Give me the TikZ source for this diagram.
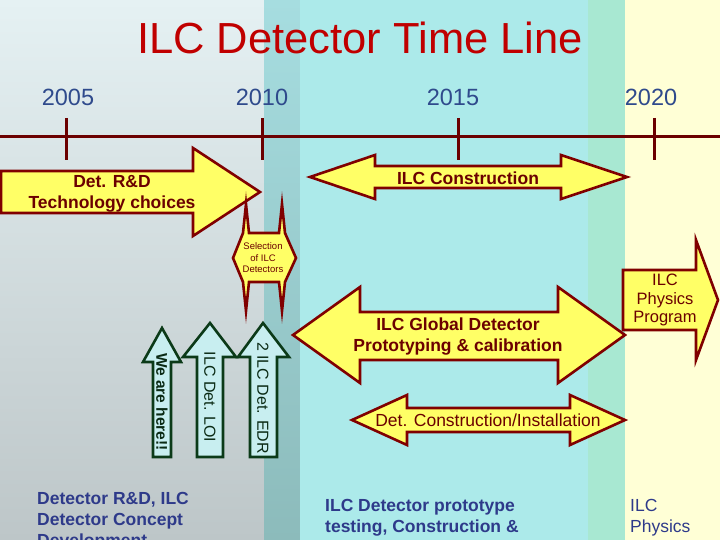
\documentclass[tikz,border=0pt]{standalone}
\usepackage{fontspec}
\setmainfont{Liberation Sans}
\definecolor{bgtop}{HTML}{E5F1F3}
\definecolor{bgbottom}{HTML}{BDC6C8}
\definecolor{bandtop}{HTML}{A6DDE0}
\definecolor{bandbottom}{HTML}{8CBBBB}
\definecolor{bgcyan}{HTML}{ACEAEA}
\definecolor{bgmint}{HTML}{A8E8D2}
\definecolor{bgyellow}{HTML}{FFFFD6}
\definecolor{titlered}{HTML}{C00000}
\definecolor{yearblue}{HTML}{2F4A8C}
\definecolor{linered}{HTML}{6B0000}
\definecolor{arrowfill}{HTML}{FFFF66}
\definecolor{arrowline}{HTML}{800000}
\definecolor{arrowtext}{HTML}{6B0000}
\definecolor{greenfill}{HTML}{C8EEF0}
\definecolor{greenline}{HTML}{0B3A18}
\definecolor{greentext}{HTML}{0A2A14}
\definecolor{notesblue}{HTML}{2E3A8A}
\tikzset{
  timeline/.style={
    draw=linered,
    line width=3pt
  },
  year/.style={
    text=yearblue,
    font=\fontsize{23.5}{26}\selectfont,
    inner sep=0pt
  },
  blockarrow/.style={
    fill=arrowfill,
    draw=arrowline,
    line width=2.6pt,
    line join=miter
  },
  greenarrow/.style={
    fill=greenfill,
    draw=greenline,
    line width=2.6pt,
    line join=miter
  },
  arrowlabel/.style={
    text=arrowtext,
    font=\bfseries\fontsize{17.5}{21}\selectfont,
    align=center,
    inner sep=0pt
  },
  uplabel/.style={
    text=greentext,
    font=\fontsize{16}{18}\selectfont,
    rotate=-90,
    inner sep=0pt
  },
  notes/.style={
    text=notesblue,
    font=\bfseries\fontsize{17.5}{21}\selectfont,
    align=left,
    anchor=base west,
    inner sep=0pt
  }
}
\begin{document}
\begin{tikzpicture}[x=1pt, y=-1pt]
    \useasboundingbox (0,0) rectangle (720,540);
    % background bands
    \shade[top color=bgtop, bottom color=bgbottom] (0,0) rectangle (264,540);
    \shade[top color=bandtop, bottom color=bandbottom] (264,0) rectangle (300,540);
    \fill[bgcyan] (300,0) rectangle (588,540);
    \fill[bgmint] (588,0) rectangle (625,540);
    \fill[bgyellow] (625,0) rectangle (720,540);

    \node[text=titlered, font=\fontsize{43.5}{48}\selectfont, inner sep=0pt] (title) at (360,38) {ILC Detector Time Line};

    % time axis
    \draw[timeline] (0,137) -- (720,137);
    \foreach \x/\lx/\yr in {66/68/2005, 262/262/2010, 458/453/2015, 654/651/2020} {
        \draw[timeline] (\x,118) -- (\x,160);
        \node[year] (y\yr) at (\lx,97) {\yr};
    }

    % yellow block arrows
    \draw[blockarrow] (1,171) -- (193,171) -- (193,148) -- (260,192) -- (193,236) -- (193,213) -- (1,213) -- cycle;
    \node[arrowlabel] (rd) at (112,194) {Det. R\&D\\Technology choices};

    \draw[blockarrow] (310,177) -- (375,155) -- (375,166) -- (561,166) -- (561,155) -- (627,177)
        -- (561,199) -- (561,188) -- (375,188) -- (375,199) -- cycle;
    \node[arrowlabel] (construction) at (468,178) {ILC Construction};

    \draw[blockarrow] (233,258) -- (243,233) -- (246,204) -- (249,233) -- (279,233) -- (282,204) -- (285,233)
        -- (296,258) -- (285,282) -- (282,311) -- (279,282) -- (249,282) -- (246,311) -- (243,282) -- cycle;
    \node[arrowlabel, font=\fontsize{9.5}{11.5}\selectfont] (selection) at (263,258) {Selection\\of ILC\\Detectors};

    \draw[blockarrow] (293,335) -- (360,287) -- (360,312) -- (558,312) -- (558,287) -- (625,335)
        -- (558,383) -- (558,360) -- (360,360) -- (360,383) -- cycle;
    \node[arrowlabel] (prototyping) at (458,337) {ILC Global Detector\\Prototyping \& calibration};

    \draw[blockarrow] (352,420) -- (407,395) -- (407,408) -- (570,408) -- (570,395) -- (625,420)
        -- (570,445) -- (570,432) -- (407,432) -- (407,445) -- cycle;
    \node[arrowlabel, font=\fontsize{17.5}{21}\selectfont] (installation) at (488,420) {Det. Construction/Installation};

    \draw[blockarrow] (623,270) -- (696,270) -- (696,240) -- (718,300) -- (696,360) -- (696,330) -- (623,330) -- cycle;
    \node[arrowlabel, font=\fontsize{16.5}{18.5}\selectfont] (physics) at (665,300) {ILC\\Physics\\Program};

    % milestone arrows
    \draw[greenarrow] (162,328) -- (181,362) -- (171,362) -- (171,457) -- (153,457) -- (153,362) -- (143,362) -- cycle;
    \node[uplabel, font=\bfseries\fontsize{15.5}{18}\selectfont] (here) at (162,402) {We are here!!};

    \draw[greenarrow] (210,323) -- (236,357) -- (223,357) -- (223,457) -- (197,457) -- (197,357) -- (183,357) -- cycle;
    \node[uplabel] (loi) at (210,397) {ILC Det. LOI};

    \draw[greenarrow] (263,323) -- (289,357) -- (277,357) -- (277,457) -- (250,457) -- (250,357) -- (238,357) -- cycle;
    \node[uplabel] (edr) at (263,398) {2 ILC Det. EDR};

    % phase notes
    \node[notes] (noteleft) at (37,546) {Detector R\&D, ILC\\Detector Concept\\Development};
    \node[notes] (notemid) at (325,532) {ILC Detector prototype\\testing, Construction \&};
    \node[notes, font=\fontsize{17.5}{21}\selectfont] (noteright) at (630,532) {ILC\\Physics};
\end{tikzpicture}
\end{document}
